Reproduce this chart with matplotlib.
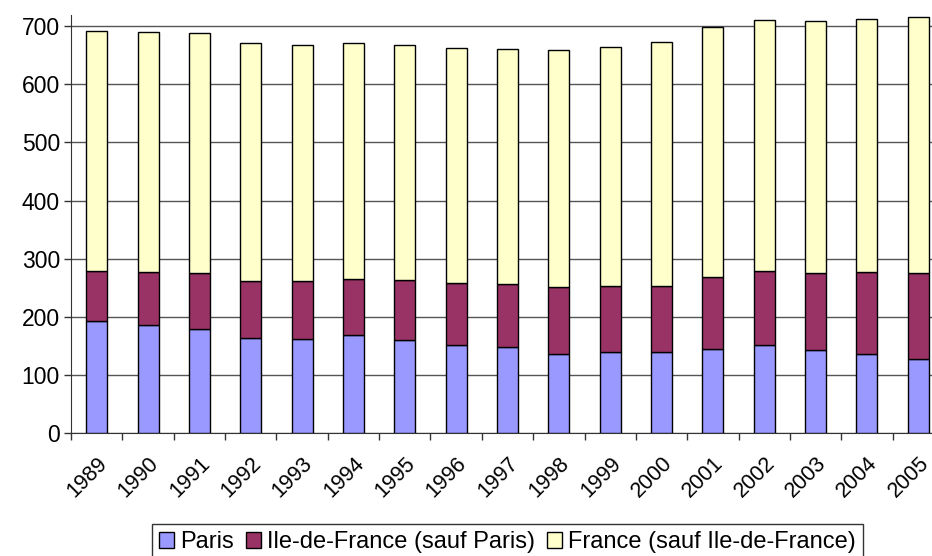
import numpy as np
from matplotlib import pyplot as plt

plt.rcParams['font.family'] = ['Liberation Sans', 'DejaVu Sans']

years = ['1989', '1990', '1991', '1992', '1993', '1994', '1995', '1996', '1997',
         '1998', '1999', '2000', '2001', '2002', '2003', '2004', '2005']
# cumulative tops
paris_top = [193, 187, 180, 164, 162, 169, 160, 152, 148, 136, 140, 139, 145, 152, 143, 136, 128]
idf_top = [279, 278, 275, 261, 262, 265, 263, 258, 257, 252, 254, 253, 269, 279, 276, 277, 275]
total_top = [692, 689, 688, 671, 668, 671, 668, 662, 661, 659, 664, 672, 698, 711, 709, 712, 715]

paris = np.array(paris_top)
idf = np.array(idf_top) - paris
france = np.array(total_top) - np.array(idf_top)

fig = plt.figure(figsize=(9.32, 5.56), dpi=100)
W, H = 932, 556
ax = fig.add_axes([71 / W, (H - 433.3) / H, 873 / W, 418.3 / H])

x = np.arange(len(years))
w = 0.41
ax.bar(x, paris, w, color='#9999FF', edgecolor='black', linewidth=1, label='Paris', zorder=3)
ax.bar(x, idf, w, bottom=paris, color='#993366', edgecolor='black', linewidth=1,
       label='Ile-de-France (sauf Paris)', zorder=3)
ax.bar(x, france, w, bottom=paris + idf, color='#FFFFCC', edgecolor='black', linewidth=1,
       label='France (sauf Ile-de-France)', zorder=3)

ax.set_xlim(-0.5, len(years) - 0.5)
ax.set_ylim(0, 719)
ax.set_yticks(range(0, 800, 100))
ax.yaxis.grid(True, color='#555555', linewidth=1)
ax.set_axisbelow(True)

ax.set_xticks(x)
ax.set_xticklabels(years, rotation=45, ha='right', rotation_mode='anchor', fontsize=15.5)
ax.set_xticks(np.arange(-0.5, len(years), 1), minor=True)
ax.tick_params(axis='x', which='major', length=0, pad=14)
ax.tick_params(axis='x', which='minor', length=5, width=1, color='#333333')
ax.tick_params(axis='y', length=5, width=1, labelsize=16.5, pad=3, color='#333333')

for s in ['top', 'right']:
    ax.spines[s].set_visible(False)
ax.spines['left'].set_color('#333333')
ax.spines['bottom'].set_color('#333333')

leg = fig.legend(loc='upper left', bbox_to_anchor=(152 / W, 1 - 524 / H), ncol=3,
                 fontsize=17, frameon=True, fancybox=False, edgecolor='black',
                 handlelength=0.65, handleheight=0.65, handletextpad=0.25,
                 columnspacing=0.5, borderpad=0.3, borderaxespad=0)
leg.get_frame().set_linewidth(1)

fig.savefig('out.png', dpi=100)
